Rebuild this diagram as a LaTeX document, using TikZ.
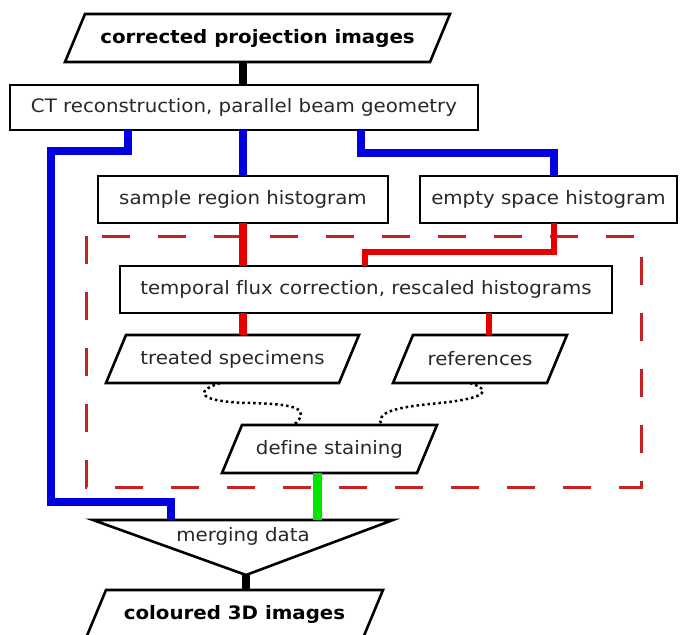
\documentclass[tikz,border=0pt]{standalone}
\usepackage{fontspec}
\setmainfont[FakeStretch=1.07, Ligatures=NoCommon]{DejaVu Sans}
\usetikzlibrary{calc}
\definecolor{bblue}{RGB}{0,0,225}
\definecolor{rred}{RGB}{232,0,0}
\definecolor{dred}{RGB}{200,35,35}
\definecolor{ggreen}{RGB}{0,232,0}
\definecolor{txtgray}{RGB}{40,40,40}
\newcommand\drawpara[1]{\draw[outline] ($(#1.north west)+(10,0)$) -- ($(#1.north east)+(10,0)$)
  -- ($(#1.south east)+(-10,0)$) -- ($(#1.south west)+(-10,0)$) -- cycle;}
\begin{document}
\begin{tikzpicture}[x=1pt,y=-1pt,
  txt/.style={font=\fontsize{18.5}{20}\selectfont, text=txtgray},
  outline/.style={line width=2.6pt, line join=miter, black},
  box/.style={txt, draw, line width=2.6pt, rectangle, inner sep=0pt, outer sep=0pt},
  para/.style={txt, rectangle, inner sep=0pt, outer sep=0pt, minimum height=48pt},
  blk/.style={line width=8pt, black},
  bl/.style={line width=8.5pt, bblue, line join=miter},
  rdthick/.style={line width=8pt, rred, line join=miter},
  rdthin/.style={line width=5.5pt, rred, line join=miter},
  gr/.style={line width=9pt, ggreen},
  dots/.style={line width=2.5pt, dash pattern=on 2.5pt off 3pt, black},
  frame/.style={line width=3pt, dred, dash pattern=on 28pt off 28pt}
]
\fill[white] (0,0) rectangle (681,635);
\useasboundingbox (0,0) rectangle (681,635);

% nodes
\node[para, minimum width=365pt, font=\fontsize{18.5}{20}\selectfont\bfseries, text=black] (top) at (257.5,38) {corrected projection images};
\drawpara{top}
\node[box, minimum width=468pt, minimum height=45pt] (ct) at (244,107.5) {CT reconstruction, parallel beam geometry};
\node[box, minimum width=290pt, minimum height=47pt] (sample) at (243,199.5) {sample region histogram};
\node[box, minimum width=257pt, minimum height=47pt] (empty) at (548.5,199.5) {empty space histogram};
\node[box, minimum width=492pt, minimum height=47pt] (temporal) at (366,289.5) {temporal flux correction, rescaled histograms};
\node[para, minimum width=233pt] (treated) at (232.5,359) {treated specimens};
\drawpara{treated}
\node[para, minimum width=154pt] (refs) at (480,359) {references};
\drawpara{refs}
\node[para, minimum width=195pt] (define) at (329.5,449) {define staining};
\drawpara{define}
\node[para, minimum width=277pt, font=\fontsize{18.5}{20}\selectfont\bfseries, text=black] (coloured) at (234.5,614) {coloured 3D images};
\drawpara{coloured}

% merging triangle
\coordinate (mtl) at (93,520);
\coordinate (mtr) at (393,520);
\coordinate (mbot) at (246,575);
\draw[outline] (mtl) -- (mtr) -- (mbot) -- cycle;
\node[txt] (merge) at (243,536) {merging data};

% dashed frame
\draw[frame] (86,236) rectangle (641,487);

% x positions
\coordinate (xa) at (243,0);
\coordinate (xb) at (128,0);
\coordinate (xc) at (361,0);
\coordinate (xd) at (554,0);
\coordinate (xe) at (365,0);
\coordinate (xf) at (489,0);
\coordinate (xg) at (317,0);
\coordinate (xh) at (246,0);
\coordinate (xi) at (171,0);

% black connectors
\draw[blk] (xa |- top.south) -- (xa |- ct.north);
\draw[blk] (mbot) -- (xh |- coloured.north);

% blue connectors
\draw[bl] (xb |- ct.south) |- (51,151) -- (51,502) -| (xi |- mtl);
\draw[bl] (xa |- ct.south) -- (xa |- sample.north);
\draw[bl] (xc |- ct.south) |- (554,153) -- (xd |- empty.north);

% red connectors
\draw[rdthick] (xa |- sample.south) -- (xa |- temporal.north);
\draw[rdthin] (xd |- empty.south) |- (365,252) -- (xe |- temporal.north);
\draw[rdthick] (xa |- temporal.south) -- (xa |- treated.north);
\draw[rdthin] (xf |- temporal.south) -- (xf |- refs.north);

% green connector
\draw[gr] (xg |- define.south) -- (xg |- mtl);

% dotted connectors
\coordinate (da) at (220,0);
\coordinate (db) at (294,0);
\coordinate (dc) at (470,0);
\coordinate (dd) at (381,0);
\draw[dots] (da |- treated.south) .. controls (192,392) and (200,402) .. (250,403)
  .. controls (300,404) and (310,410) .. (db |- define.north);
\draw[dots] (dc |- refs.south) .. controls (492,390) and (488,398) .. (440,403)
  .. controls (385,408) and (378,414) .. (dd |- define.north);
\end{tikzpicture}
\end{document}
